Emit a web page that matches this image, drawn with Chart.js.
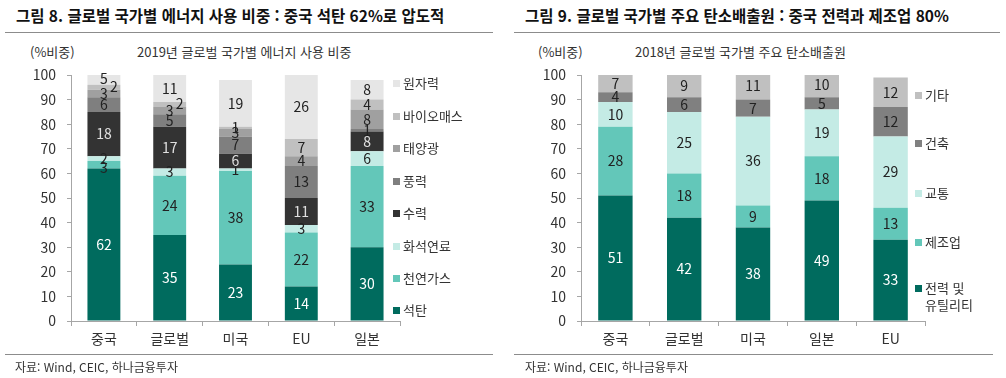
<!DOCTYPE html>
<html lang="ko">
<head>
<meta charset="utf-8">
<script src="https://cdn.jsdelivr.net/npm/chart.js@4.4.1/dist/chart.umd.min.js"></script>
<style>
  body { margin: 0; background: #fff; font-family: "Noto Sans CJK KR", "Noto Sans", sans-serif; color: #222; }
  #page { position: relative; width: 1006px; height: 378px; overflow: hidden; }
  .abs { position: absolute; white-space: nowrap; }
  .title { font-size: 15.5px; font-weight: bold; color: #111; line-height: 20px; }
  .rule { position: absolute; height: 1px; background: #8c8c8c; }
  .sub { font-size: 13px; color: #333; line-height: 16px; }
  .src { font-size: 12px; color: #333; line-height: 16px; }
  .legend { position: absolute; font-size: 13px; color: #333; }
  .legend div { position: absolute; white-space: nowrap; line-height: 17px; }
  .legend span { display: inline-block; width: 7px; height: 7px; margin-right: 3px; vertical-align: 1px; }
  canvas { position: absolute; top: 0; }
</style>
</head>
<body>
<div id="page">
  <div class="abs title" style="left:16px; top:5px;">그림 8. 글로벌 국가별 에너지 사용 비중 : 중국 석탄 62%로 압도적</div>
  <div class="rule" style="left:5px; top:32px; width:488px;"></div>
  <div class="abs sub" style="left:30px; top:44px;">(%비중)</div>
  <div class="abs sub" style="left:137px; top:44px;">2019년 글로벌 국가별 에너지 사용 비중</div>
  <canvas id="energy" width="500" height="378" style="left:0;"></canvas>
  <div class="legend" id="energyLegend"></div>
  <div class="rule" style="left:5px; top:354px; width:488px;"></div>
  <div class="abs src" style="left:15px; top:359px;">자료: Wind, CEIC, 하나금융투자</div>

  <div class="abs title" style="left:525px; top:5px;">그림 9. 글로벌 국가별 주요 탄소배출원 : 중국 전력과 제조업 80%</div>
  <div class="rule" style="left:514px; top:32px; width:486px;"></div>
  <div class="abs sub" style="left:538px; top:44px;">(%비중)</div>
  <div class="abs sub" style="left:635px; top:44px;">2018년 글로벌 국가별 주요 탄소배출원</div>
  <canvas id="carbon" width="496" height="378" style="left:510px;"></canvas>
  <div class="legend" id="carbonLegend"></div>
  <div class="rule" style="left:514px; top:354px; width:479px;"></div>
  <div class="abs src" style="left:525px; top:359px;">자료: Wind, CEIC, 하나금융투자</div>
</div>

<script>
// 그림 8 - 에너지 사용 비중 (2019)
const energyCountries = ['중국', '글로벌', '미국', 'EU', '일본'];
const energySources = ['석탄', '천연가스', '화석연료', '수력', '풍력', '태양광', '바이오매스', '원자력'];
const coal    = [62, 35, 23, 14, 30];
const gas     = [3, 24, 38, 22, 33];
const fossil  = [2, 3, 1, 3, 6];
const hydro   = [18, 17, 6, 11, 8];
const wind    = [6, 5, 7, 13, 1];
const solar   = [3, 3, 3, 4, 8];
const biomass = [2, 2, 1, 7, 4];
const nuclear = [5, 11, 19, 26, 8];
const energyColors = ['#006b5e', '#63c7b9', '#c4ebe5', '#333333', '#7f7f7f', '#a0a0a0', '#c0c0c0', '#e6e6e6'];
const energyTextColors = ['#ffffff', '#222', '#222', '#e0e0e0', '#222', '#222', '#222', '#222'];

// 그림 9 - 주요 탄소배출원 (2018)
const carbonCountries = ['중국', '글로벌', '미국', '일본', 'EU'];
const carbonSectors = ['전력 및 유틸리티', '제조업', '교통', '건축', '기타'];
const power     = [51, 42, 38, 49, 33];
const industry  = [28, 18, 9, 18, 13];
const transport = [10, 25, 36, 19, 29];
const building  = [4, 6, 7, 5, 12];
const others    = [7, 9, 11, 10, 12];
const carbonColors = ['#006b5e', '#63c7b9', '#c4ebe5', '#808080', '#c0c0c0'];
const carbonTextColors = ['#ffffff', '#222', '#222', '#222', '#222'];

const yTicks = [0, 10, 20, 30, 40, 50, 60, 70, 80, 90, 100];

const valueLabels = {
  id: 'valueLabels',
  afterDatasetsDraw(chart, args, opts) {
    const ctx = chart.ctx;
    ctx.save();
    ctx.font = '14px "Noto Sans CJK KR"';
    ctx.textAlign = 'center';
    ctx.textBaseline = 'middle';
    chart.data.datasets.forEach((ds, i) => {
      chart.getDatasetMeta(i).data.forEach((bar, j) => {
        const shift = (opts.shift && opts.shift[i + ',' + j]) || [0, 0];
        ctx.fillStyle = ds.labelColor;
        ctx.fillText(ds.data[j], bar.x + shift[0], (bar.y + bar.base) / 2 + shift[1]);
      });
    });
    ctx.restore();
  }
};

function makeChart(id, labels, names, series, colors, textColors, padRight, shift) {
  const datasets = names.map((n, i) => ({
    label: n,
    data: series[i],
    backgroundColor: colors[i],
    labelColor: textColors[i],
    borderWidth: 0,
    barPercentage: 0.5,
    categoryPercentage: 1
  }));
  const axisColor = '#a6a6a6';
  return new Chart(document.getElementById(id), {
    type: 'bar',
    data: { labels: labels, datasets: datasets },
    plugins: [valueLabels],
    options: {
      responsive: false,
      animation: false,
      layout: { padding: { top: 75, left: 0, right: padRight, bottom: 27 } },
      plugins: {
        legend: { display: false },
        tooltip: { enabled: false },
        valueLabels: { shift: shift }
      },
      scales: {
        x: {
          stacked: true,
          afterFit: s => { s.height = 30; },
          grid: { display: true, drawOnChartArea: false, offset: true, tickLength: 5, color: axisColor },
          border: { color: axisColor },
          ticks: { font: { size: 14, family: 'Noto Sans CJK KR' }, color: '#333', padding: 4 }
        },
        y: {
          stacked: true,
          min: 0, max: 100,
          afterFit: s => { s.width = id === 'energy' ? 71 : 71; },
          afterBuildTicks: s => { s.ticks = yTicks.map(v => ({ value: v })); },
          grid: { display: true, drawOnChartArea: false, tickLength: 4, color: axisColor },
          border: { color: axisColor },
          ticks: { font: { size: 14, family: 'Noto Sans CJK KR' }, color: '#333', padding: 11 }
        }
      }
    }
  });
}

function makeLegend(id, names, colors, left, tops) {
  const box = document.getElementById(id);
  box.style.left = left + 'px';
  box.style.top = '0px';
  names.forEach((n, i) => {
    const d = document.createElement('div');
    d.style.top = tops[i] + 'px';
    const parts = n.split('|');
    d.innerHTML = '<span style="background:' + colors[i] + '"></span>' + parts.join('<br><span style="background:transparent"></span>');
    box.appendChild(d);
  });
}

makeChart('energy', energyCountries, energySources,
  [coal, gas, fossil, hydro, wind, solar, biomass, nuclear],
  energyColors, energyTextColors, 100,
  { '6,0': [10, -1], '6,1': [10, -1], '1,0': [0, 3] });

makeChart('carbon', carbonCountries, carbonSectors,
  [power, industry, transport, building, others],
  carbonColors, carbonTextColors, 81, {});

// legends: top item first (reverse of stack order)
makeLegend('energyLegend', energySources.slice().reverse(), energyColors.slice().reverse(), 393,
  [74, 107, 139, 172, 204, 237, 269, 301]);
makeLegend('carbonLegend', ['기타', '건축', '교통', '제조업', '전력 및|유틸리티'],
  carbonColors.slice().reverse(), 915, [86, 134, 184, 233, 279]);
</script>
</body>
</html>
